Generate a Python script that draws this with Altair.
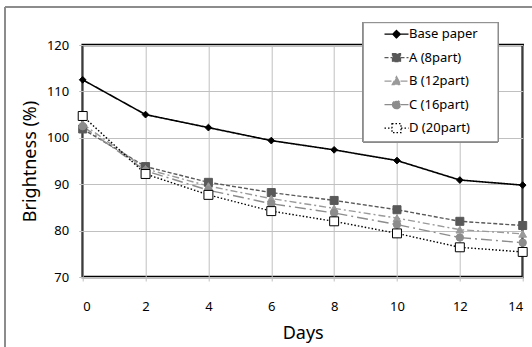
import altair as alt
import pandas as pd

days = [0, 2, 4, 6, 8, 10, 12, 14]
series_names = ["Base paper", "A (8part)", "B (12part)", "C (16part)", "D (20part)"]
base_paper = [112.5, 105.0, 102.2, 99.4, 97.4, 95.1, 90.9, 89.8]
a_8part = [101.9, 93.8, 90.4, 88.2, 86.5, 84.5, 82.0, 81.1]
b_12part = [103.0, 93.3, 89.6, 86.9, 84.8, 82.7, 80.2, 79.3]
c_16part = [102.5, 92.9, 88.7, 85.8, 83.8, 81.3, 78.5, 77.4]
d_20part = [104.7, 92.2, 87.7, 84.2, 82.0, 79.4, 76.4, 75.4]

all_values = [base_paper, a_8part, b_12part, c_16part, d_20part]
rows = []
for name, vals in zip(series_names, all_values):
    for d, v in zip(days, vals):
        rows.append({"day": d, "value": v, "series": name})
df = pd.DataFrame(rows)

stroke_colors = ["#000000", "#595959", "#9a9a9a", "#8c8c8c", "#000000"]
fill_colors = ["#000000", "#595959", "#9a9a9a", "#8c8c8c", "#ffffff"]
dashes = [[1, 0], [4, 2], [7, 3, 2, 3], [11, 4, 2, 4], [1.5, 2]]
shapes = ["diamond", "square", "triangle-up", "circle", "square"]
sizes = [45, 64, 60, 55, 80]
legend_paths = [
    "M-2.4,0H2.4M0,-0.75L0.75,0L0,0.75L-0.75,0Z",
    "M-2.4,0H-0.8M0.8,0H2.4M-0.8,-0.8H0.8V0.8H-0.8Z",
    "M-2.4,0H-0.8M0.8,0H2.4M0,-0.9L0.85,0.7H-0.85Z",
    "M-2.4,0H-0.8M0.8,0H2.4M-0.8,0A0.8,0.8,0,1,0,0.8,0A0.8,0.8,0,1,0,-0.8,0Z",
    "M-2.4,0H-0.9M0.9,0H2.4M-0.9,-0.9H0.9V0.9H-0.9Z",
]

x_enc = alt.X(
    "day:Q",
    scale=alt.Scale(domain=[0, 14], nice=False),
    axis=alt.Axis(values=days, title="Days", labelPadding=19, titlePadding=11),
)
y_enc = alt.Y(
    "value:Q",
    scale=alt.Scale(domain=[70, 120], nice=False),
    axis=alt.Axis(values=[70, 80, 90, 100, 110, 120], title="Brightness (%)",
                  labelPadding=10, titlePadding=7),
)

base = alt.Chart(df)
layers = []
for i, name in enumerate(series_names):
    sub = base.transform_filter(alt.datum.series == name)
    layers.append(
        sub.mark_line(color=stroke_colors[i], strokeDash=dashes[i],
                      strokeWidth=1.6 if i == 0 else 1.4).encode(x=x_enc, y=y_enc)
    )
for i, name in enumerate(series_names):
    sub = base.transform_filter(alt.datum.series == name)
    layers.append(
        sub.mark_point(shape=shapes[i], size=sizes[i], filled=False,
                       fill=fill_colors[i], stroke=stroke_colors[i],
                       strokeWidth=1, opacity=1).encode(x=x_enc, y=y_enc)
    )

# legend frame (white box with grey border)
legend_box = alt.Chart(df).mark_rect(
    fill="#ffffff", stroke="#8c8c8c", strokeWidth=1
).encode(
    x=alt.value(280.6), x2=alt.value(415.3), y=alt.value(-22.3), y2=alt.value(96.7)
)

legend_layer = base.mark_point(opacity=0, strokeWidth=1.4).encode(
    x=x_enc,
    y=y_enc,
    shape=alt.Shape("series:N", sort=series_names,
                    scale=alt.Scale(domain=series_names, range=legend_paths),
                    legend=alt.Legend(
                        title=None, orient="none", legendX=280.3, legendY=-22.3,
                        padding=5, rowPadding=8.5, symbolSize=100,
                        symbolOffset=22, labelOffset=6,
                        labelFont="Noto Sans", labelFontSize=13, labelColor="#000",
                        symbolOpacity=1, symbolStrokeWidth=1.3,
                    )),
    stroke=alt.Stroke("series:N", sort=series_names,
                      scale=alt.Scale(domain=series_names, range=stroke_colors)),
    fill=alt.Fill("series:N", sort=series_names,
                  scale=alt.Scale(domain=series_names, range=fill_colors)),
    strokeDash=alt.StrokeDash("series:N", sort=series_names,
                              scale=alt.Scale(domain=series_names, range=dashes)),
)

border_left = alt.Chart(df).mark_rule(color="#8c8c8c", strokeWidth=2).encode(
    x=alt.value(-77.7), y=alt.value(-38), y2=alt.value(302)
)
border_top = alt.Chart(df).mark_rule(color="#8c8c8c", strokeWidth=2).encode(
    y=alt.value(-38), x=alt.value(-77.7), x2=alt.value(449.3)
)

chart = alt.layer(*layers, legend_box, legend_layer, border_left, border_top).properties(
    width=440,
    height=232,
    autosize=alt.AutoSizeParams(type="none"),
    padding={"left": 82.7, "top": 45, "right": 9.3, "bottom": 70},
    background="#ffffff",
).configure_view(
    stroke="#000000", strokeWidth=2.5
).configure_axis(
    grid=True, gridColor="#c0c0c0", gridWidth=1,
    domain=False, ticks=True, tickColor="#c0c0c0", tickSize=4,
    labelFont="Noto Sans", labelFontSize=13, labelColor="#000000",
    titleFont="Noto Sans", titleFontSize=18, titleFontWeight="normal", titleColor="#000000",
)

chart.save("out.html", embed_options={"renderer": "svg", "actions": False})
